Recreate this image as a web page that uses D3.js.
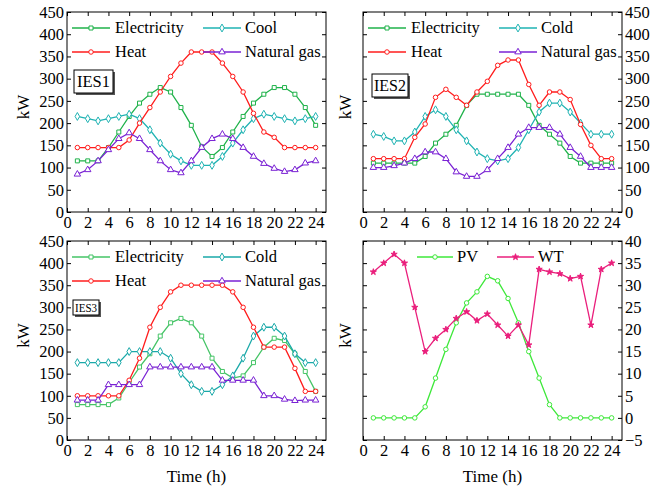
<!DOCTYPE html>
<html><head><meta charset="utf-8">
<script src="https://cdn.jsdelivr.net/npm/d3@7/dist/d3.min.js"></script>
<style>
html,body{margin:0;padding:0;background:#fff;}
svg{display:block;}
svg text{font-family:"Liberation Serif","Times New Roman","DejaVu Serif",serif !important;}
</style></head><body>
<svg id="c" width="667" height="491" font-family="Liberation Serif, serif"></svg>
<script>
// ---------- data ----------
const hours = [1,2,3,4,5,6,7,8,9,10,11,12,13,14,15,16,17,18,19,20,21,22,23,24];
const xTicks = [0,2,4,6,8,10,12,14,16,18,20,22,24];
const yTicksLoad = [0,50,100,150,200,250,300,350,400,450];
const yTicksRes = [-5,0,5,10,15,20,25,30,35,40];

// IES1
const ies1Electricity = [115,115,115,145,180,215,245,265,280,270,235,195,147,125,145,180,215,245,265,280,280,265,235,195];
const ies1Cool        = [215,210,205,210,215,220,210,185,155,130,115,105,105,105,125,155,185,210,220,215,210,205,210,215];
const ies1Heat        = [145,145,145,145,145,162,200,235,270,305,335,360,360,360,335,305,270,222,180,168,145,145,145,145];
const ies1Gas         = [85,95,115,140,165,178,165,140,115,95,88,115,145,165,175,165,145,125,109,98,91,95,110,115];
// IES2
const ies2Electricity = [110,110,110,110,110,125,155,175,195,240,265,265,265,265,265,240,195,175,155,125,110,110,110,110];
const ies2Cold        = [175,170,160,160,180,215,230,215,185,160,135,120,115,120,145,185,225,245,245,225,200,175,175,175];
const ies2Heat        = [120,120,120,120,168,198,258,276,258,240,270,294,330,342,342,287,240,270,270,253,197,150,120,120];
const ies2Gas         = [100,100,104,110,120,135,135,120,90,80,80,95,120,145,175,190,190,190,175,145,125,100,100,100];
// IES3
const ies3Electricity = [80,80,80,80,95,130,165,195,235,265,275,265,235,185,155,140,145,175,210,230,225,195,155,110];
const ies3Cold        = [175,175,175,175,175,200,200,200,200,185,150,125,110,110,125,145,185,235,255,255,235,195,175,175];
const ies3Heat        = [100,100,100,100,100,135,185,255,300,335,350,350,350,350,350,335,300,255,210,210,210,162,110,110];
const ies3Gas         = [90,90,90,125,125,125,125,165,165,165,165,165,165,165,135,135,135,135,100,100,92,89,90,90];
// Renewables
const pv = [0,0,0,0,0,2.5,9,15.5,21.5,26,28.5,32,31,27,21.5,15,9,3,0,0,0,0,0,0];
const wt = [33,35,37,35,25,15,18,20,22.5,24,22,23.5,21,18.5,21,16.5,33.6,33,32.6,31.5,32,21,33.6,35];

// ---------- styles ----------
const C = {
  elec: "#1fb24a", cool: "#1fb3b3", heat: "#ff1c1c", gas: "#7a22d4",
  elec3: "#45c466", cold3: "#1aa9a9", pv: "#3ee83a", wt: "#ea1f7c"
};
const FONT = "Liberation Serif, Times New Roman, serif";

const svg = d3.select("#c");

function drawPanel(p) {
  const x = d3.scaleLinear().domain([0,25]).range([p.x0, p.x1]);
  const y = d3.scaleLinear().domain(p.yDomain).range([p.y1, p.y0]);
  const g = svg.append("g");

  g.append("rect").attr("x", p.x0).attr("y", p.y0)
    .attr("width", p.x1 - p.x0).attr("height", p.y1 - p.y0)
    .attr("fill", "none").attr("stroke", "#000").attr("stroke-width", 1);

  const ax = g.append("g").attr("transform", `translate(0,${p.y1})`)
    .call(d3.axisBottom(x).tickValues(xTicks).tickSizeInner(-4).tickSizeOuter(0).tickPadding(4));
  ax.select(".domain").remove();
  const at = g.append("g").attr("transform", `translate(0,${p.y0})`)
    .call(d3.axisTop(x).tickValues(xTicks).tickSizeInner(-4).tickSizeOuter(0).tickFormat(""));
  at.select(".domain").remove();

  const labelled = p.side === "left" ? d3.axisLeft(y) : d3.axisRight(y);
  const ay = g.append("g").attr("transform", `translate(${p.side === "left" ? p.x0 : p.x1},0)`)
    .call(labelled.tickValues(p.yTicks).tickSizeInner(-4).tickSizeOuter(0).tickPadding(3));
  ay.select(".domain").remove();
  const other = p.side === "left" ? d3.axisRight(y) : d3.axisLeft(y);
  const ao = g.append("g").attr("transform", `translate(${p.side === "left" ? p.x1 : p.x0},0)`)
    .call(other.tickValues(p.yTicks).tickSizeInner(-4).tickSizeOuter(0).tickFormat(""));
  ao.select(".domain").remove();

  g.selectAll("g").attr("font-family", FONT);
  g.selectAll(".tick text").attr("font-size", 16.5).attr("fill", "#000").attr("font-family", FONT);
  g.selectAll(".tick line").attr("stroke", "#000");

  g.append("text").attr("transform", `translate(${p.yTitleX},${(p.y0+p.y1)/2 - 5}) rotate(-90)`)
    .attr("text-anchor", "middle").attr("dy", "0.35em").attr("font-size", 17)
    .attr("font-family", FONT).text("kW");
  if (p.xTitle) {
    g.append("text").attr("x", (p.x0+p.x1)/2).attr("y", 482)
      .attr("text-anchor", "middle").attr("font-size", 17).attr("font-family", FONT).text("Time (h)");
  }

  const line = d3.line().x((d,i) => x(hours[i])).y(d => y(d));
  p.series.forEach(s => {
    g.append("path").datum(s.values).attr("d", line)
      .attr("fill", "none").attr("stroke", s.color).attr("stroke-width", 1.3);
    const sym = d3.symbol().type(s.symbol).size(s.size);
    g.selectAll(null).data(s.values).enter().append("path")
      .attr("d", sym)
      .attr("transform", (d,i) => `translate(${x(hours[i])},${y(d)})`)
      .attr("fill", s.filled ? s.color : "#fff")
      .attr("stroke", s.color).attr("stroke-width", 1);
  });

  p.series.forEach((s, k) => {
    const col = p.legendCols[k], row = p.legendRows[k];
    const lx0 = p.x0 + col[0], lx1 = p.x0 + col[1], ly = p.y0 + row;
    g.append("line").attr("x1", lx0).attr("x2", lx1).attr("y1", ly).attr("y2", ly)
      .attr("stroke", s.color).attr("stroke-width", 1.3);
    g.append("path").attr("d", d3.symbol().type(s.symbol).size(s.size)())
      .attr("transform", `translate(${(lx0+lx1)/2},${ly})`)
      .attr("fill", s.filled ? s.color : "#fff").attr("stroke", s.color);
    g.append("text").attr("x", p.x0 + col[2]).attr("y", ly).attr("dy", "0.33em")
      .attr("font-size", 16.5).attr("font-family", FONT).text(s.name);
  });

  if (p.tag) {
    const t = p.tag;
    g.append("rect").attr("x", p.x0 + t.dx + 2).attr("y", p.y0 + t.dy + 2)
      .attr("width", t.w).attr("height", t.h).attr("fill", "#555");
    g.append("rect").attr("x", p.x0 + t.dx).attr("y", p.y0 + t.dy)
      .attr("width", t.w).attr("height", t.h).attr("fill", "#fff").attr("stroke", "#000");
    g.append("text").attr("x", p.x0 + t.dx + t.w/2).attr("y", p.y0 + t.dy + t.h/2)
      .attr("dy", "0.35em").attr("text-anchor", "middle").attr("font-size", t.fs)
      .attr("font-family", FONT)
      .attr("textLength", t.tl).attr("lengthAdjust", "spacingAndGlyphs").text(t.text);
  }
}

const sq = d3.symbolSquare, ci = d3.symbolCircle, di = d3.symbolDiamond, tr = d3.symbolTriangle, st = d3.symbolStar;
const cols4 = [[5,43,48],[136,174,178],[5,43,48],[136,174,178]];
const rows4 = [16,16,40,40];

drawPanel({
  x0: 67, x1: 326, y0: 12, y1: 212, yDomain: [0,450], yTicks: yTicksLoad, side: "left", yTitleX: 23,
  legendCols: cols4, legendRows: rows4,
  tag: {dx: 7, dy: 58, w: 39, h: 23, fs: 17, text: "IES1", tl: 33},
  series: [
    {name: "Electricity", values: ies1Electricity, color: C.elec, symbol: sq, size: 16},
    {name: "Cool", values: ies1Cool, color: C.cool, symbol: di, size: 18},
    {name: "Heat", values: ies1Heat, color: C.heat, symbol: ci, size: 16},
    {name: "Natural gas", values: ies1Gas, color: C.gas, symbol: tr, size: 18}
  ]
});
drawPanel({
  x0: 363, x1: 622, y0: 12, y1: 212, yDomain: [0,450], yTicks: yTicksLoad, side: "right", yTitleX: 345,
  legendCols: cols4, legendRows: rows4,
  tag: {dx: 9, dy: 62, w: 36, h: 23, fs: 17, text: "IES2", tl: 32},
  series: [
    {name: "Electricity", values: ies2Electricity, color: C.elec, symbol: sq, size: 16},
    {name: "Cold", values: ies2Cold, color: C.cool, symbol: di, size: 18},
    {name: "Heat", values: ies2Heat, color: C.heat, symbol: ci, size: 16},
    {name: "Natural gas", values: ies2Gas, color: C.gas, symbol: tr, size: 18}
  ]
});
drawPanel({
  x0: 67, x1: 326, y0: 241, y1: 440, yDomain: [0,450], yTicks: yTicksLoad, side: "left", yTitleX: 23, xTitle: true,
  legendCols: cols4, legendRows: rows4,
  tag: {dx: 6, dy: 59, w: 26, h: 15, fs: 12, text: "IES3", tl: 22},
  series: [
    {name: "Electricity", values: ies3Electricity, color: C.elec3, symbol: sq, size: 16},
    {name: "Cold", values: ies3Cold, color: C.cold3, symbol: di, size: 18},
    {name: "Heat", values: ies3Heat, color: C.heat, symbol: ci, size: 16},
    {name: "Natural gas", values: ies3Gas, color: C.gas, symbol: tr, size: 18}
  ]
});
drawPanel({
  x0: 363, x1: 622, y0: 241, y1: 440, yDomain: [-5,40], yTicks: yTicksRes, side: "right", yTitleX: 345, xTitle: true,
  legendCols: [[54,90,94],[134,171,175]], legendRows: [16,16],
  series: [
    {name: "PV", values: pv, color: C.pv, symbol: ci, size: 16},
    {name: "WT", values: wt, color: C.wt, symbol: st, size: 12, filled: true}
  ]
});
</script>
</body></html>
